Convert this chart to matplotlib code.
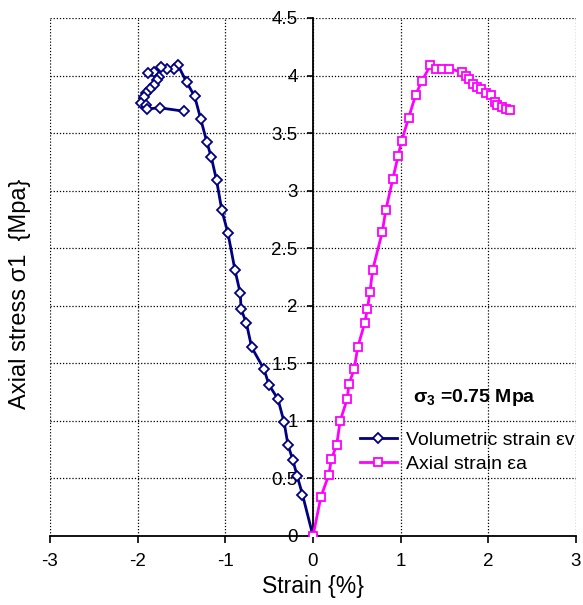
import matplotlib
matplotlib.use("Agg")
import matplotlib.pyplot as plt

plt.rcParams['font.family'] = ['Liberation Sans', 'DejaVu Sans']
plt.rcParams['mathtext.fontset'] = 'custom'
plt.rcParams['mathtext.rm'] = 'Liberation Sans'
plt.rcParams['mathtext.it'] = 'Liberation Sans:italic'
plt.rcParams['mathtext.bf'] = 'Liberation Sans:bold'

# Volumetric strain (%) vs axial stress (MPa)
vol_strain = [0, -0.12, -0.18, -0.23, -0.285, -0.33, -0.40, -0.50, -0.56, -0.70, -0.76, -0.82,
              -0.83, -0.89, -0.97, -1.04, -1.10, -1.16, -1.21, -1.28, -1.35, -1.44, -1.54,
              -1.59, -1.66, -1.73, -1.81, -1.88, -1.76, -1.78, -1.81, -1.86, -1.91, -1.93,
              -1.96, -1.91, -1.89, -1.75, -1.47]
vol_stress = [0, 0.36, 0.52, 0.66, 0.79, 0.99, 1.19, 1.31, 1.45, 1.64, 1.85, 1.97,
              2.11, 2.31, 2.63, 2.83, 3.09, 3.29, 3.42, 3.62, 3.82, 3.94, 4.09,
              4.06, 4.06, 4.07, 4.03, 4.02, 3.99, 3.96, 3.92, 3.88, 3.85, 3.81,
              3.76, 3.74, 3.71, 3.72, 3.69]

# Axial strain (%) vs axial stress (MPa)
ax_strain = [0, 0.09, 0.18, 0.21, 0.27, 0.31, 0.39, 0.41, 0.47, 0.51, 0.59, 0.62, 0.65,
             0.68, 0.79, 0.83, 0.91, 0.97, 1.01, 1.09, 1.17, 1.24, 1.34, 1.40, 1.47,
             1.55, 1.70, 1.75, 1.78, 1.82, 1.87, 1.92, 1.97, 2.03, 2.08, 2.10, 2.16,
             2.20, 2.25]
ax_stress = [0, 0.34, 0.53, 0.67, 0.79, 1.00, 1.19, 1.32, 1.45, 1.64, 1.85, 1.97, 2.12,
             2.31, 2.64, 2.83, 3.10, 3.30, 3.43, 3.63, 3.83, 3.95, 4.09, 4.06, 4.06,
             4.06, 4.03, 4.00, 3.97, 3.93, 3.90, 3.88, 3.85, 3.83, 3.77, 3.74, 3.73,
             3.71, 3.70]

x_ticks = [-3, -2, -1, 0, 1, 2, 3]
y_ticks = [0, 0.5, 1, 1.5, 2, 2.5, 3, 3.5, 4, 4.5]
y_labels = ['0', '0.5', '1', '1.5', '2', '2.5', '3', '3.5', '4', '4.5']

fig = plt.figure(figsize=(5.83, 6.05), dpi=100)
ax = fig.add_axes([50/583, 1-536/605, (576-50)/583, (536-18)/605])

ax.plot(vol_strain, vol_stress, color='#000080', lw=2.0, marker='D', ms=5,
        mfc='white', mec='#000080', mew=1.3, label='Volumetric strain εv', zorder=3)
ax.plot(ax_strain, ax_stress, color='#FF00FF', lw=2.0, marker='s', ms=6,
        mfc='white', mec='#FF00FF', mew=1.3, label='Axial strain εa', zorder=3)

ax.set_xlim(-3, 3)
ax.set_ylim(0, 4.5)
ax.set_xticks(x_ticks)
ax.set_xticklabels([str(v) for v in x_ticks])
ax.set_yticks(y_ticks)
ax.set_yticklabels(y_labels)

ax.grid(True, linestyle=(0, (1, 1.5)), color='black', lw=0.9)
ax.set_axisbelow(True)

ax.spines['left'].set_position(('data', 0))
ax.spines['top'].set_visible(False)
ax.spines['right'].set_visible(False)
ax.spines['left'].set_linewidth(1.3)
ax.spines['bottom'].set_linewidth(1.3)
ax.tick_params(axis='x', direction='out', length=5, width=1.2, pad=7, labelsize=13.5)
ax.tick_params(axis='y', direction='out', length=4, width=1.2, pad=7, labelsize=13.5)

ax.set_xlabel('Strain {%}', fontsize=16.5, labelpad=4)
fig.text(20/583, 1-294/605, 'Axial stress σ1  {Mpa}', rotation=90, fontsize=17,
         ha='center', va='center')

ax.text(1.84, 1.2, r'$\mathbf{\sigma_3}$ =0.75 Mpa', fontsize=14, fontweight='bold',
        ha='center', va='center')

leg = ax.legend(loc='upper left', bbox_to_anchor=(342/583, 1-414/605),
                bbox_transform=fig.transFigure, frameon=False, fontsize=14,
                handlelength=1.95, handletextpad=0.45, labelspacing=0.3)

fig.savefig('out.png', dpi=100)
